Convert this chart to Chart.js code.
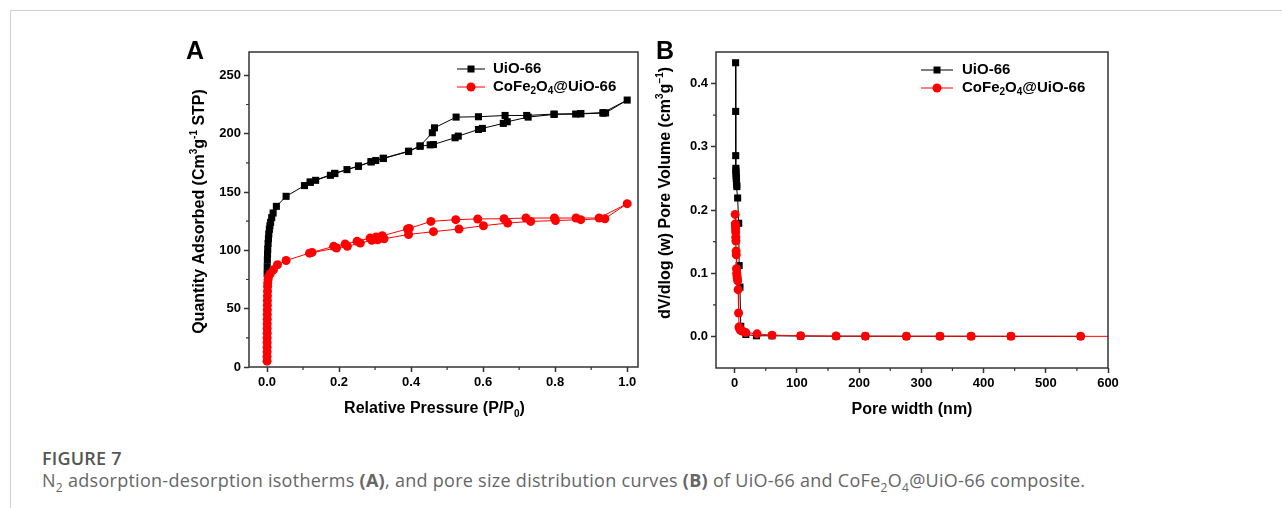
<!DOCTYPE html>
<html lang="en">
<head>
<meta charset="UTF-8">
<title>Figure 7</title>
<script src="https://cdn.jsdelivr.net/npm/chart.js@4.4.1/dist/chart.umd.min.js"></script>
<style>
    body {
        margin: 0;
        padding: 0;
        background: #fff;
        width: 1282px;
        height: 508px;
        overflow: hidden;
        position: relative;
        font-family: 'Open Sans', sans-serif;
    }
    .frame-line {
        position: absolute;
        left: 10px;
        top: 10px;
        right: 0;
        bottom: 0;
        border-top: 1.5px solid #d0d0d0;
        border-left: 1.5px solid #d0d0d0;
    }
    .panel {
        position: absolute;
        top: 30px;
        width: 510px;
        height: 400px;
    }
    #panelA { left: 150px; }
    #panelB { left: 620px; }
    .caption {
        position: absolute;
        left: 42px;
        top: 447px;
        color: #666;
        font-size: 18px;
        line-height: 22px;
        letter-spacing: 0.28px;
    }
    .caption .fig {
        color: #555;
        font-weight: 600;
        letter-spacing: 0.2px;
    }
    .caption sub {
        font-size: 12px;
        line-height: 0;
    }
</style>
</head>
<body>
    <div class="frame-line"></div>
    <div class="panel" id="panelA"><canvas id="chartA" width="510" height="400"></canvas></div>
    <div class="panel" id="panelB"><canvas id="chartB" width="510" height="400"></canvas></div>
    <div class="caption">
        <div class="fig">FIGURE 7</div>
        <div>N<sub>2</sub> adsorption-desorption isotherms <b>(A)</b>, and pore size distribution curves <b>(B)</b> of UiO-66 and CoFe<sub>2</sub>O<sub>4</sub>@UiO-66 composite.</div>
    </div>

<script>
// N2 isotherms: adsorption branch first, then desorption back down
const uioIsoP = [0.0003, 0.0006, 0.001, 0.0015, 0.002, 0.003, 0.004, 0.005, 0.0065, 0.008, 0.010, 0.013, 0.017, 0.026, 0.053,
    0.104, 0.12, 0.135, 0.176, 0.188, 0.222, 0.254, 0.289, 0.302, 0.323, 0.393, 0.425, 0.453, 0.462, 0.522, 0.531,
    0.587, 0.598, 0.656, 0.667, 0.725, 0.797, 0.857, 0.871, 0.933, 0.94, 1.0,
    0.933, 0.871, 0.797, 0.721, 0.661, 0.587, 0.525, 0.465, 0.459, 0.425, 0.393, 0.323, 0.289, 0.254, 0.188, 0.12];
const uioIsoQ = [80, 86, 92, 97, 101, 106, 110, 114, 118, 121, 124, 128, 132, 137.7, 146.3,
    155.5, 158.3, 160, 164.3, 165.8, 169.2, 172, 175.8, 177, 178.7, 184.7, 189.2, 190.4, 190.7, 196.5, 197.9,
    203.6, 204.5, 208.8, 210.2, 214.2, 216.5, 216.8, 217, 217.6, 217.8, 228.8,
    218, 217.2, 216.8, 215.6, 215.6, 214.5, 214.2, 205, 200.8, 189.5, 185, 179, 176, 172.3, 166, 158.6];

const cfoIsoP = [0.0001, 0.0001, 0.0002, 0.0002, 0.0003, 0.0003, 0.0004, 0.0005, 0.0005, 0.0006, 0.0007, 0.0008, 0.0009,
    0.001, 0.0012, 0.0014, 0.0017, 0.002, 0.003, 0.004, 0.009, 0.018, 0.029, 0.053, 0.118, 0.193, 0.223, 0.259,
    0.291, 0.307, 0.325, 0.393, 0.462, 0.533, 0.601, 0.668, 0.732, 0.801, 0.871, 0.938, 1.0,
    0.922, 0.858, 0.798, 0.719, 0.658, 0.585, 0.524, 0.455, 0.395, 0.39, 0.32, 0.303, 0.286, 0.25, 0.217, 0.185, 0.125];
const cfoIsoQ = [5, 9, 13, 17, 21, 25, 29, 33, 37, 41, 45, 49, 53,
    57, 61, 65, 69, 72, 75, 77.5, 79.9, 83.3, 87.6, 91.3, 97.6, 102, 103.5, 106.2,
    108.6, 109.1, 109.9, 113.6, 116, 118.3, 121.1, 123.4, 124.8, 125.5, 126.3, 127.1, 140,
    127.7, 127.7, 127.7, 127.7, 127.1, 126.9, 126.3, 124.8, 118.8, 118.3, 112.5, 111.4, 110.5, 107.7, 105.4, 103.4, 98.2];

// pore size distribution
const uioPoreW = [1.5, 1.6, 1.7, 1.9, 2.0, 2.2, 2.4, 2.6, 2.9, 3.2, 3.6, 4.8, 6.5, 7.2, 8.5, 9.8, 12.5, 18,
    35, 60, 106, 163, 210, 276, 330, 380, 444, 556];
const uioPoreV = [0.433, 0.356, 0.286, 0.266, 0.262, 0.258, 0.254, 0.25, 0.245, 0.24, 0.237, 0.219, 0.179, 0.112, 0.078,
    0.016, 0.008, 0.003, 0.001, 0.001, 0.0005, 0.0003, 0.0003, 0.0002, 0.0002, 0.0002, 0.0001, 0.0001];

const cfoPoreW = [0.8, 1.0, 1.2, 1.4, 1.6, 1.8, 2.0, 2.3, 2.6, 2.9, 3.3, 3.7, 4.2, 4.8, 5.5, 6.3, 7.0, 7.5, 9,
    12.8, 18, 36, 60, 106, 163, 210, 276, 330, 380, 444, 556, 640];
const cfoPoreV = [0.193, 0.178, 0.175, 0.17, 0.165, 0.157, 0.151, 0.135, 0.129, 0.107, 0.1, 0.096, 0.092, 0.088, 0.074,
    0.037, 0.015, 0.013, 0.01, 0.008, 0.006, 0.004, 0.002, 0.001, 0.0005, 0.0004, 0.0003, 0.0003, 0.0002, 0.0002, 0.0001, 0.0001];

// axis ticks
const isoPTicks = [0, 0.2, 0.4, 0.6, 0.8, 1.0];
const isoQTicks = [0, 50, 100, 150, 200, 250];
const poreWTicks = [0, 100, 200, 300, 400, 500, 600];
const poreVTicks = [0, 0.1, 0.2, 0.3, 0.4];

const seriesNames = [
    [['UiO-66', 0]],
    [['CoFe', 0], ['2', -1], ['O', 0], ['4', -1], ['@UiO-66', 0]]
];

const FONT = '"Liberation Sans", Arial, sans-serif';
const AXIS = '#333';

// text with sub/superscripts: parts = [[text, shift]], shift 1 = sup, -1 = sub
function drawRich(ctx, parts, x, y, size, rot, align) {
    ctx.save();
    ctx.translate(x, y);
    ctx.rotate(rot || 0);
    ctx.textBaseline = 'middle';
    ctx.textAlign = 'left';
    ctx.fillStyle = '#000';
    let w = 0;
    parts.forEach(p => {
        ctx.font = 'bold ' + (p[1] ? Math.round(size * 0.65) : size) + 'px ' + FONT;
        w += ctx.measureText(p[0]).width;
    });
    let cx = align === 'left' ? 0 : -w / 2;
    parts.forEach(p => {
        ctx.font = 'bold ' + (p[1] ? Math.round(size * 0.65) : size) + 'px ' + FONT;
        const dy = p[1] === 1 ? -size * 0.38 : p[1] === -1 ? size * 0.3 : 0;
        ctx.fillText(p[0], cx, dy);
        cx += ctx.measureText(p[0]).width;
    });
    ctx.restore();
}

function midpoints(ticks) {
    return ticks.slice(1).map((v, i) => (v + ticks[i]) / 2);
}

const panelDecor = {
    id: 'panelDecor',
    afterDraw(chart, args, opts) {
        const ctx = chart.ctx;
        const a = chart.chartArea;
        const xs = chart.scales.x, ys = chart.scales.y;
        ctx.save();
        // box
        ctx.strokeStyle = AXIS;
        ctx.lineWidth = 1.5;
        ctx.strokeRect(a.left, a.top, a.right - a.left, a.bottom - a.top);
        // minor ticks
        ctx.lineWidth = 1.2;
        ctx.beginPath();
        midpoints(opts.xTicks).forEach(v => {
            const px = xs.getPixelForValue(v);
            ctx.moveTo(px, a.bottom);
            ctx.lineTo(px, a.bottom + 3);
        });
        midpoints(opts.yTicks).forEach(v => {
            const py = ys.getPixelForValue(v);
            ctx.moveTo(a.left, py);
            ctx.lineTo(a.left - 3, py);
        });
        ctx.stroke();
        ctx.restore();

        // axis titles
        drawRich(ctx, opts.xTitle, (a.left + a.right) / 2 + opts.xTitleShift, a.bottom + 42, 16, 0);
        drawRich(ctx, opts.yTitle, opts.yTitleX, (a.top + a.bottom) / 2 + opts.yTitleShift, 16, -Math.PI / 2);

        // panel letter
        ctx.save();
        ctx.font = 'bold 25px ' + FONT;
        ctx.fillStyle = '#000';
        ctx.textAlign = 'center';
        ctx.textBaseline = 'middle';
        ctx.fillText(opts.letter, 45, 22);
        ctx.restore();

        // legend: line with marker, then label
        const L = opts.legend;
        chart.data.datasets.slice().sort((d1, d2) => d1.legendIndex - d2.legendIndex).forEach((ds, i) => {
            const y = L.y + i * 18;
            ctx.save();
            ctx.strokeStyle = ds.borderColor;
            ctx.lineWidth = 1;
            ctx.beginPath();
            ctx.moveTo(L.x0, y);
            ctx.lineTo(L.x1, y);
            ctx.stroke();
            ctx.fillStyle = ds.backgroundColor;
            const mx = (L.x0 + L.x1) / 2;
            if (ds.pointStyle === 'rect') {
                ctx.fillRect(mx - 3.5, y - 3.5, 7, 7);
            } else {
                ctx.beginPath();
                ctx.arc(mx, y, 4.5, 0, Math.PI * 2);
                ctx.fill();
            }
            ctx.restore();
            drawRich(ctx, seriesNames[ds.legendIndex], L.tx, y, 15, 0, 'left');
        });
    }
};

function pairs(xs, ys) {
    return xs.map((x, i) => ({ x: x, y: ys[i] }));
}

function makeDatasets(blackX, blackY, redX, redY) {
    return [
        {
            data: pairs(blackX, blackY),
            legendIndex: 0,
            order: 1,
            borderColor: '#000',
            backgroundColor: '#000',
            pointStyle: 'rect',
            pointRadius: 5,
            borderWidth: 1,
            pointBorderWidth: 0,
            showLine: true
        },
        {
            data: pairs(redX, redY),
            legendIndex: 1,
            order: 0,
            borderColor: '#ff0000',
            backgroundColor: '#ff0000',
            pointStyle: 'circle',
            pointRadius: 4.5,
            borderWidth: 1,
            pointBorderWidth: 0,
            showLine: true
        }
    ];
}

function axisOpts(min, max, ticks, fmt, size) {
    return {
        type: 'linear',
        min: min,
        max: max,
        afterBuildTicks: s => { s.ticks = ticks.map(v => ({ value: v })); },
        afterFit: s => {
            if (s.isHorizontal()) s.height = size; else s.width = size;
        },
        grid: {
            drawOnChartArea: false,
            drawTicks: true,
            tickLength: 5,
            tickColor: AXIS,
            tickWidth: 1.5
        },
        border: { display: false },
        ticks: {
            color: '#000',
            padding: 3,
            autoSkip: false,
            maxRotation: 0,
            font: { family: FONT, size: 13, weight: 'bold' },
            callback: v => fmt(v)
        },
        title: { display: false }
    };
}

function makeChart(id, datasets, xAxis, yAxis, decor) {
    return new Chart(document.getElementById(id), {
        type: 'scatter',
        data: { datasets: datasets },
        options: {
            responsive: false,
            animation: false,
            layout: { padding: { top: 22, right: 22, left: 0, bottom: 0 } },
            scales: { x: xAxis, y: yAxis },
            plugins: {
                legend: { display: false },
                tooltip: { enabled: false },
                panelDecor: decor
            }
        },
        plugins: [panelDecor]
    });
}

makeChart('chartA',
    makeDatasets(uioIsoP, uioIsoQ, cfoIsoP, cfoIsoQ),
    axisOpts(-0.05, 1.03, isoPTicks, v => v.toFixed(1), 63),
    axisOpts(0, 270, isoQTicks, v => String(v), 99),
    {
        letter: 'A',
        xTicks: isoPTicks,
        yTicks: isoQTicks,
        xTitle: [['Relative Pressure (P/P', 0], ['0', -1], [')', 0]],
        xTitleShift: -9,
        yTitle: [['Quantity Adsorbed (Cm', 0], ['3', 1], ['g', 0], ['-1', 1], [' STP)', 0]],
        yTitleX: 50,
        yTitleShift: 2,
        legend: { x0: 307, x1: 335, tx: 343, y: 39 }
    });

makeChart('chartB',
    makeDatasets(uioPoreW, uioPoreV, cfoPoreW, cfoPoreV),
    axisOpts(-30, 600, poreWTicks, v => String(v), 62),
    axisOpts(-0.05, 0.45, poreVTicks, v => v.toFixed(1), 96),
    {
        letter: 'B',
        xTicks: poreWTicks,
        yTicks: poreVTicks,
        xTitle: [['Pore width (nm)', 0]],
        xTitleShift: 0,
        yTitle: [['dV/dlog (w) Pore Volume (cm', 0], ['3', 1], ['g', 0], ['\u22121', 1], [')', 0]],
        yTitleX: 46,
        yTitleShift: -17,
        legend: { x0: 301, x1: 333, tx: 342, y: 40 }
    });
</script>
</body>
</html>
